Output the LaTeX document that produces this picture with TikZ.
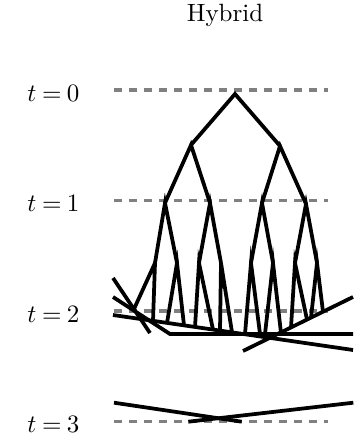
\documentclass[tikz,border=0pt]{standalone}
\tikzset{
  edge/.style={line width=1.5pt, line join=miter},
  tline/.style={line width=1.3pt, gray, dash pattern=on 3pt off 3pt},
  tlabel/.style={anchor=east, inner sep=0pt},
}
\begin{document}
\begin{tikzpicture}[x=0.4pt,y=-0.4pt]
\useasboundingbox (0,0) rectangle (356,438);
% title
\node (title) at (225,15) {Hybrid};
% time levels
\foreach \n/\yy in {0/90,1/200.5,2/311,3/421.5}{
  \coordinate (d\n a) at (114,\yy);
  \coordinate (d\n b) at (328,\yy);
  \draw[tline] (d\n a) -- (d\n b);
  \node[tlabel] (lab\n) at (80,\yy+3) {$\thickmuskip=4mu t=\n$};
}
% tree nodes
\coordinate (R) at (235,94);
\coordinate (A) at (191,145);
\coordinate (B) at (280,146);
\coordinate (A1) at (165,203);
\coordinate (A2) at (210,203);
\coordinate (B1) at (262,203);
\coordinate (B2) at (306,204);
\coordinate (A1a) at (155,263);
\coordinate (A1b) at (177,263);
\coordinate (A2a) at (199,263);
\coordinate (A2b) at (221,263);
\coordinate (B1a) at (251,263);
\coordinate (B1b) at (273,263);
\coordinate (B2a) at (295,263);
\coordinate (B2b) at (317,263);
% leaves
\coordinate (l1) at (134,309);
\coordinate (l2) at (153,320.8);
\coordinate (l3) at (167,322.9);
\coordinate (l4) at (184,325.4);
\coordinate (l5) at (195,327);
\coordinate (l6) at (213,329.6);
\coordinate (l7) at (220,330.6);
\coordinate (l8) at (232,332.3);
\coordinate (l9) at (245,334);
\coordinate (l10) at (260,334);
\coordinate (l11) at (265,334);
\coordinate (l12) at (281,333);
\coordinate (l13) at (291,327.5);
\coordinate (l14) at (307,319.6);
\coordinate (l15) at (311,317.7);
\coordinate (l16) at (323,311.8);
% tree edges
\draw[edge] (A) -- (R) -- (B);
\draw[edge] (A1) -- (A) -- (A2);
\draw[edge] (B1) -- (B) -- (B2);
\draw[edge] (A1a) -- (A1) -- (A1b);
\draw[edge] (A2a) -- (A2) -- (A2b);
\draw[edge] (B1a) -- (B1) -- (B1b);
\draw[edge] (B2a) -- (B2) -- (B2b);
\draw[edge] (l1) -- (A1a) -- (l2);
\draw[edge] (l3) -- (A1b) -- (l4);
\draw[edge] (l5) -- (A2a) -- (l6);
\draw[edge] (l7) -- (A2b) -- (l8);
\draw[edge] (l9) -- (B1a) -- (l10);
\draw[edge] (l11) -- (B1b) -- (l12);
\draw[edge] (l13) -- (B2a) -- (l14);
\draw[edge] (l15) -- (B2b) -- (l16);
% walls at t=2
\coordinate (w1a) at (113,278);
\coordinate (w1b) at (150,333);
\coordinate (w2a) at (113,297);
\coordinate (w2k) at (170,334);
\coordinate (w2b) at (353,334);
\coordinate (w3a) at (113,315);
\coordinate (w3b) at (353,350);
\coordinate (w4a) at (243,351);
\coordinate (w4b) at (353,297);
\draw[edge] (w1a) -- (w1b);
\draw[edge] (w2a) -- (w2k) -- (w2b);
\draw[edge] (w3a) -- (w3b);
\draw[edge] (w4a) -- (w4b);
% walls at t=3
\coordinate (v1a) at (114,402.7);
\coordinate (v1b) at (241.7,421.7);
\coordinate (v2a) at (188.3,421.7);
\coordinate (v2b) at (353.3,402.7);
\draw[edge] (v1a) -- (v1b);
\draw[edge] (v2a) -- (v2b);
\end{tikzpicture}
\end{document}
